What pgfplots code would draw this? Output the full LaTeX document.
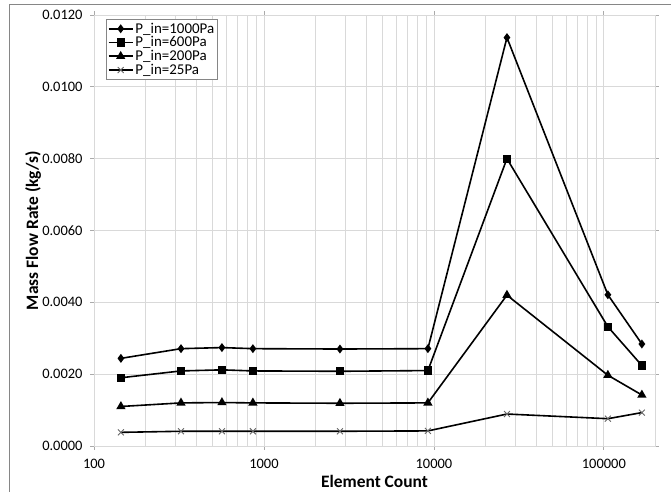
\documentclass[border=0pt]{standalone}
\usepackage{pgfplots}
\pgfplotsset{compat=1.18}
\usepackage{pgfplotstable}
\usepackage{fontspec}
\setmainfont{Carlito}
\usetikzlibrary{calc}

\definecolor{gridgray}{RGB}{217,217,217}
\definecolor{framegray}{RGB}{134,134,134}

% element count, mass flow rate (kg/s) for each inlet pressure
\pgfplotstableread{
x      p1000    p600     p200     p25
144    0.00244  0.00190  0.00110  0.00038
325    0.00271  0.00209  0.00120  0.00041
566    0.00274  0.00212  0.00121  0.00041
861    0.00271  0.00209  0.00120  0.00041
2800   0.00270  0.00208  0.00119  0.00041
9220   0.00271  0.00210  0.00120  0.00042
26900  0.01137  0.00800  0.00420  0.00089
105600 0.00421  0.00332  0.00197  0.00076
167400 0.00284  0.00224  0.00142  0.00093
}\flowdata

\begin{document}
\begin{tikzpicture}[x=1bp,y=1bp]
  \begin{semilogxaxis}[
      scale only axis,
      width=561bp, height=431bp,
      xmin=100, xmax=200000,
      ymin=0, ymax=0.012,
      xtick={100,1000,10000,100000},
      xticklabels={100,1000,10000,100000},
      ytick={0,0.002,0.004,0.006,0.008,0.010,0.012},
      scaled y ticks=false,
      y tick label style={/pgf/number format/fixed, /pgf/number format/fixed zerofill,
        /pgf/number format/precision=4, /pgf/number format/assume math mode=true, xshift=-4bp},
      font=\fontsize{14.5}{17}\selectfont,
      xticklabel style={yshift=-6bp},
      xmajorgrids, xminorgrids, ymajorgrids,
      major grid style={gridgray, line width=0.8bp},
      minor grid style={gridgray, line width=0.8bp},
      axis line style={gridgray, line width=0.8bp},
      tick align=outside,
      major tick length=4bp,
      minor tick length=0pt,
      tick style={framegray!70, line width=0.8bp},
      xlabel={Element Count},
      ylabel={Mass Flow Rate (kg/s)},
      label style={font=\fontsize{17.5}{21}\selectfont\bfseries},
      xlabel style={at={(axis description cs:0.5,-0.083)}, anchor=center},
      ylabel style={at={(axis description cs:-0.1087,0.5)}, anchor=center},
      legend style={at={(axis description cs:0.0214,0.9907)}, anchor=north west,
        draw=framegray, line width=0.8bp, font=\fontsize{15}{15.8}\selectfont,
        inner sep=1.5bp, row sep=-2bp},
      legend cell align=left,
      legend image code/.code={\draw[mark repeat=2,mark phase=2] plot coordinates {(0bp,0bp) (12bp,0bp) (24bp,0bp)};},
      clip mode=individual,
    ]
    \addplot[black, line width=1.6bp, mark=diamond*, mark size=3.2bp, mark options={solid, fill=black}] table[x=x, y=p1000]{\flowdata};
    \addlegendentry{P\_in=1000Pa}
    \addplot[black, line width=1.6bp, mark=square*, mark size=3.3bp, mark options={solid, fill=black}] table[x=x, y=p600]{\flowdata};
    \addlegendentry{P\_in=600Pa}
    \addplot[black, line width=1.6bp, mark=triangle*, mark size=3.8bp, mark options={solid, fill=black}] table[x=x, y=p200]{\flowdata};
    \addlegendentry{P\_in=200Pa}
    \addplot[black, line width=1.6bp, mark=x, mark size=4.2bp, mark options={solid, line width=0.9bp, draw=black!60}] table[x=x, y=p25]{\flowdata};
    \addlegendentry{P\_in=25Pa}
    \coordinate (ll) at (rel axis cs:0,0);
  \end{semilogxaxis}
  \draw[framegray, line width=0.8bp] ($(ll)+(-85,-46)$) -- ($(ll)+(-85,442)$) -- ($(ll)+(577,442)$);
  \pgfresetboundingbox
  \path[use as bounding box] ($(ll)+(-94,-46)$) rectangle ($(ll)+(577,446)$);
\end{tikzpicture}
\end{document}
